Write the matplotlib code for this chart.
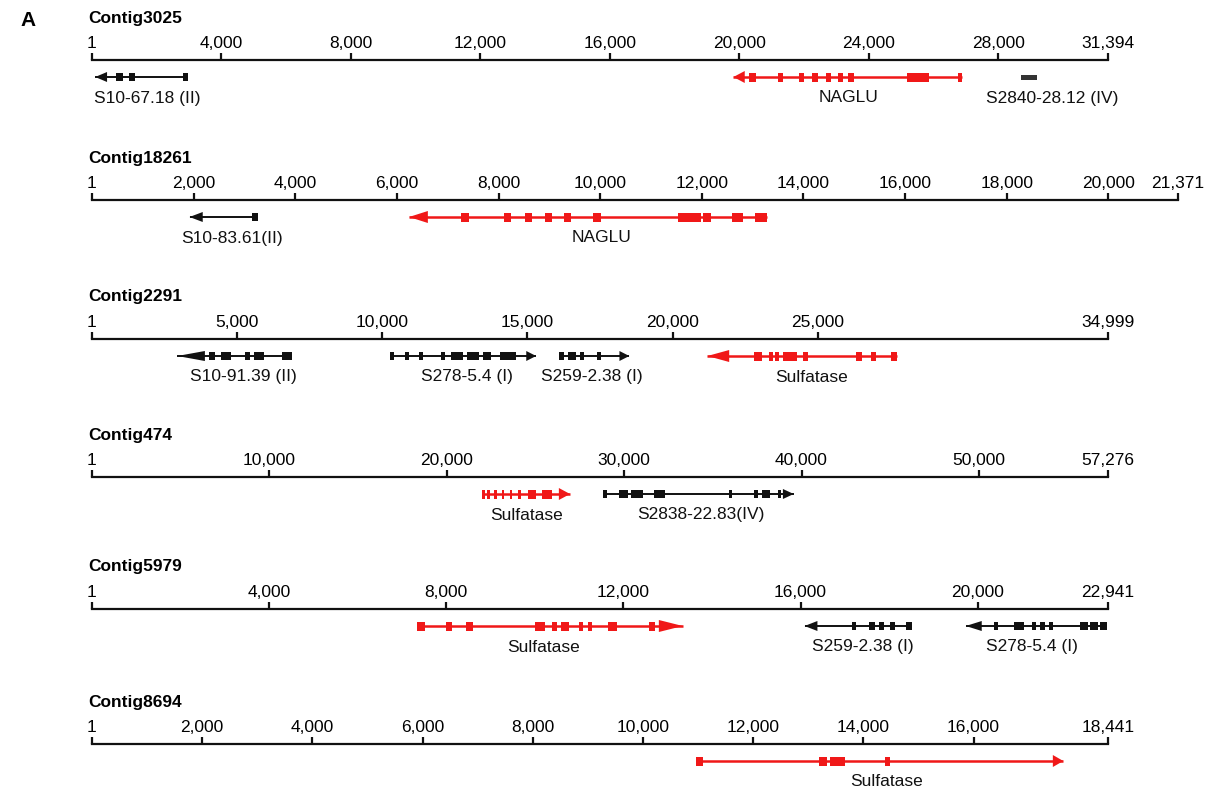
import matplotlib
matplotlib.use("Agg")
import matplotlib.pyplot as plt
from matplotlib.patches import Rectangle, Polygon

plt.rcParams["font.family"] = ["Liberation Sans", "DejaVu Sans"]

W, H = 1225, 791

# contigs
contig_names = ["Contig3025", "Contig18261", "Contig2291", "Contig474", "Contig5979", "Contig8694"]
contig_lengths = [31394, 21371, 34999, 57276, 22941, 18441]
contig_ticks = [
    [1, 4000, 8000, 12000, 16000, 20000, 24000, 28000, 31394],
    [1, 2000, 4000, 6000, 8000, 10000, 12000, 14000, 16000, 18000, 20000, 21371],
    [1, 5000, 10000, 15000, 20000, 25000, 34999],
    [1, 10000, 20000, 30000, 40000, 50000, 57276],
    [1, 4000, 8000, 12000, 16000, 20000, 22941],
    [1, 2000, 4000, 6000, 8000, 10000, 12000, 14000, 16000, 18441],
]

# genes (bp coordinates)
gene_contig = [0, 0, 0, 1, 1, 2, 2, 2, 2, 3, 3, 4, 4, 4, 5]
gene_names = ["S10-67.18 (II)", "NAGLU", "S2840-28.12 (IV)",
              "S10-83.61(II)", "NAGLU",
              "S10-91.39 (II)", "S278-5.4 (I)", "S259-2.38 (I)", "Sulfatase",
              "Sulfatase", "S2838-22.83(IV)",
              "Sulfatase", "S259-2.38 (I)", "S278-5.4 (I)",
              "Sulfatase"]
gene_kind = ["other", "target", "other", "other", "target", "other", "other", "other",
             "target", "target", "other", "target", "other", "other", "target"]
gene_start = [100, 19820, 28700, 1920, 6240, 2940, 10250, 16090, 21200, 21970, 28830, 7330, 16090, 19730, 10970]
gene_end = [2980, 26870, 29200, 3260, 13280, 6900, 15300, 18510, 27740, 26950, 39560, 13340, 18520, 22920, 17630]
gene_strand = [-1, -1, 0, -1, -1, -1, 1, 1, -1, 1, 1, 1, -1, -1, 1]
# where the arrow head begins (0 = no head)
gene_head_at = [466, 20170, 0, 2180, 6610, 3890, 14960, 18170, 21950, 26320, 38950, 12800, 16380, 20090, 17440]
gene_label_x = [1700, 23380, 29660, 2750, 10020, 5220, 12910, 17210, 24800, 24480, 34340, 10200, 17400, 21220, 14430]
gene_exons = [
    [(740, 960), (1140, 1330), (2800, 2980)],
    [(20290, 20520), (21210, 21350), (21860, 21990), (22260, 22420), (22670, 22850),
     (23040, 23220), (23360, 23560), (25180, 25850), (26750, 26870)],
    [(28700, 29200)],
    [(3150, 3260)],
    [(7260, 7410), (8110, 8240), (8520, 8660), (8910, 9050), (9290, 9430), (9850, 10010),
     (11530, 11980), (12020, 12190), (12600, 12810), (13040, 13280)],
    [(4030, 4240), (4440, 4780), (5260, 5440), (5570, 5940), (6560, 6900)],
    [(10250, 10420), (10790, 10930), (11270, 11410), (12020, 12160), (12360, 12770),
     (12910, 13320), (13460, 13730), (14070, 14620)],
    [(16090, 16260), (16390, 16670), (16800, 16940), (17400, 17520)],
    [(22820, 23080), (23330, 23470), (23540, 23680), (23790, 24300), (24500, 24680),
     (26330, 26530), (26820, 27010), (27530, 27740)],
    [(21970, 22130), (22290, 22420), (22690, 22830), (23090, 23230), (23540, 23680),
     (24040, 24210), (24600, 25040), (25380, 25940)],
    [(28830, 29010), (29730, 30230), (30360, 31080), (31710, 32320), (35920, 36080),
     (37340, 37560), (37790, 38240), (38660, 38840)],
    [(7330, 7510), (8000, 8120), (8450, 8610), (10000, 10220), (10390, 10510), (10600, 10780),
     (11000, 11090), (11210, 11300), (11660, 11850), (12570, 12710)],
    [(17150, 17240), (17550, 17690), (17780, 17890), (18010, 18130), (18370, 18520)],
    [(20360, 20450), (20820, 21040), (21220, 21310), (21400, 21510), (21600, 21700),
     (22310, 22500), (22540, 22720), (22750, 22920)],
    [(10970, 11090), (13200, 13340), (13400, 13670), (14390, 14480)],
]

# layout in pixels
axis_y = [60, 200, 339, 477, 609, 744]
axis_left = 92
axis_right = [1108, 1178, 1108, 1108, 1108, 1108]
band_top, band_bot = 50, 46

colors = {"target": "#f01818", "other": "#111111"}
fs = 12.5

fig = plt.figure(figsize=(W / 100, H / 100), dpi=100)
fig.text(20 / W, 1 - 20 / H, "A", fontsize=15, fontweight="bold", ha="left", va="center")

axes = []
for i, name in enumerate(contig_names):
    L = contig_lengths[i]
    wpx = axis_right[i] - axis_left
    ax = fig.add_axes([axis_left / W, 1 - (axis_y[i] + band_bot) / H,
                       wpx / W, (band_top + band_bot) / H])
    ax.set_xlim(1, L)
    ax.set_ylim(-band_bot, band_top)
    for s in ["left", "right", "bottom"]:
        ax.spines[s].set_visible(False)
    ax.spines["top"].set_position(("data", 0))
    ax.spines["top"].set_linewidth(1.6)
    ax.spines["top"].set_color("#111111")
    ax.xaxis.set_ticks_position("top")
    ax.set_xticks(contig_ticks[i])
    ax.set_xticklabels(["{:,}".format(t) for t in contig_ticks[i]], fontsize=fs)
    ax.tick_params(axis="x", direction="out", length=5, width=1.6, pad=1.5, color="#111111")
    ax.set_yticks([])
    ax.patch.set_alpha(0)
    ax.annotate(name, xy=(1, 0), xytext=(-4, 42), textcoords="offset pixels",
                fontsize=fs, fontweight="bold", ha="left", va="center")
    axes.append(ax)

gy = -17
for g in range(len(gene_names)):
    ax = axes[gene_contig[g]]
    col = colors[gene_kind[g]]
    s, e = gene_start[g], gene_end[g]
    strand = gene_strand[g]
    if strand == 0:
        ax.add_patch(Rectangle((s, gy - 2.5), e - s, 5, color="#333333", lw=0))
    else:
        lw = 1.8 if gene_kind[g] == "target" else 1.4
        ax.plot([s, e], [gy, gy], color=col, lw=lw, solid_capstyle="butt")
        eh = 9 if gene_kind[g] == "target" else 8
        for a, b in gene_exons[g]:
            ax.add_patch(Rectangle((a, gy - eh / 2), b - a, eh, color=col, lw=0))
        hh = 12 if gene_kind[g] == "target" else 10
        tip = e if strand > 0 else s
        base = gene_head_at[g]
        ax.add_patch(Polygon([(base, gy - hh / 2), (tip, gy), (base, gy + hh / 2)],
                             closed=True, color=col, lw=0))
    ax.text(gene_label_x[g], -38, gene_names[g], fontsize=fs, ha="center", va="center",
            color="#111111")

fig.savefig("out.png", dpi=100)
